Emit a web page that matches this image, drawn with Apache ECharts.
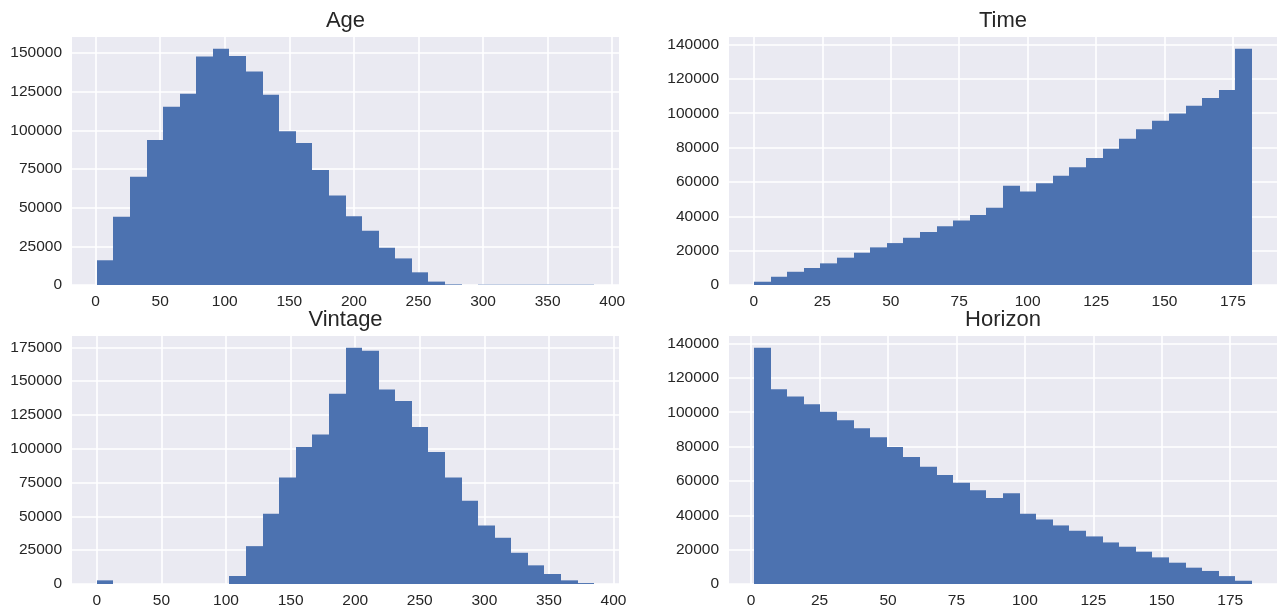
<!DOCTYPE html>
<html>
<head>
<meta charset="utf-8">
<script src="https://cdn.jsdelivr.net/npm/echarts@6/dist/echarts.min.js"></script>
<style>
  html, body { margin: 0; padding: 0; background: #ffffff; }
  #chart { width: 1279px; height: 612px; }
</style>
</head>
<body>
<div id="chart"></div>
<script>
// ---- data (30-bin histograms) ----
const panelTitles = ['Age', 'Time', 'Vintage', 'Horizon'];

const ageRange = [1, 386];
const ageCounts = [16000, 44100, 70100, 93800, 115300, 123700, 147800, 152800, 148200, 138100,
  123100, 99400, 91900, 74400, 57900, 44500, 35100, 24100, 17200, 8200,
  2200, 400, 0, 200, 200, 200, 200, 200, 200, 200];

const timeRange = [0, 182];
const timeCounts = [1900, 4800, 7700, 9900, 12600, 15900, 18800, 21900, 24400, 27500,
  30900, 34200, 37500, 40800, 44900, 57800, 54500, 59200, 63600, 68500,
  73900, 79300, 85100, 90700, 95600, 99800, 104400, 108900, 113500, 137500];

const vintageRange = [0, 385];
const vintageCounts = [2700, 0, 0, 0, 0, 0, 0, 0, 5900, 28000,
  51900, 78700, 101400, 110500, 140700, 174700, 172500, 143900, 135300, 116100,
  97700, 78700, 61500, 43300, 34200, 23100, 13800, 7400, 2700, 700];

const horizonRange = [1, 183];
const horizonCounts = [137500, 113400, 109200, 104700, 100300, 95400, 90600, 85400, 79800, 74000,
  68300, 63500, 58900, 54600, 50000, 52900, 40900, 37600, 34100, 31000,
  27700, 24200, 21700, 18800, 15500, 12400, 9500, 7600, 4600, 1900];

const xTickSteps = [50, 25, 50, 25];
const yTickSteps = [25000, 20000, 25000, 20000];

// ---- build ----
const ranges = [ageRange, timeRange, vintageRange, horizonRange];
const counts = [ageCounts, timeCounts, vintageCounts, horizonCounts];

const grids = [
  { left: 72,  top: 37,  width: 547, height: 248 },
  { left: 729, top: 37,  width: 548, height: 248 },
  { left: 72,  top: 336, width: 547, height: 248 },
  { left: 729, top: 336, width: 548, height: 248 }
];
const titleTops = [10, 10, 308.5, 308.5];

const BAR = '#4c72b0';
const TXT = '#262626';
const FONT = '"Liberation Sans", Arial, Helvetica, sans-serif';

function binData(range, cnt) {
  const n = cnt.length, w = (range[1] - range[0]) / n;
  return cnt.map((c, i) => [range[0] + i * w, range[0] + (i + 1) * w, c]);
}

function renderItem(params, api) {
  const x0 = api.value(0), x1 = api.value(1), v = api.value(2);
  if (!v) return null;
  const pTop = api.coord([x0, v]);
  const pBot = api.coord([x1, 0]);
  const xa = Math.round(pTop[0]), xb = Math.round(pBot[0]);
  return {
    type: 'rect',
    shape: { x: xa, y: pTop[1], width: xb - xa, height: pBot[1] - pTop[1] },
    style: { fill: BAR }
  };
}

const xAxes = [], yAxes = [], series = [], titles = [];
for (let i = 0; i < 4; i++) {
  const r = ranges[i], span = r[1] - r[0];
  xAxes.push({
    type: 'value', gridIndex: i,
    min: r[0] - 0.05 * span, max: r[1] + 0.05 * span,
    minInterval: xTickSteps[i], maxInterval: xTickSteps[i], splitNumber: 8,
    axisLine: { show: false }, axisTick: { show: false },
    axisLabel: { color: TXT, fontSize: 15.5, fontFamily: FONT, margin: 9,
      showMinLabel: false, showMaxLabel: false, formatter: v => String(v) },
    splitLine: { show: true, showMinLine: false, showMaxLine: false,
      lineStyle: { color: '#ffffff', width: 1.6 } }
  });
  const maxC = Math.max.apply(null, counts[i]);
  yAxes.push({
    type: 'value', gridIndex: i,
    min: 0, max: maxC * 1.05, interval: yTickSteps[i],
    axisLine: { show: false }, axisTick: { show: false },
    axisLabel: { color: TXT, fontSize: 15.5, fontFamily: FONT, margin: 10,
      showMinLabel: true, showMaxLabel: false, formatter: v => String(v) },
    splitLine: { show: true, showMaxLine: false,
      lineStyle: { color: '#ffffff', width: 1.6 } }
  });
  series.push({
    type: 'custom', xAxisIndex: i, yAxisIndex: i,
    renderItem: renderItem, clip: true, silent: true,
    encode: { x: [0, 1], y: 2 },
    data: binData(r, counts[i])
  });
  titles.push({
    text: panelTitles[i],
    left: grids[i].left + grids[i].width / 2, top: titleTops[i],
    textAlign: 'center', padding: 0,
    textStyle: { color: TXT, fontSize: 22, fontWeight: 'normal', fontFamily: FONT }
  });
}

const chart = echarts.init(document.getElementById('chart'), null, { renderer: 'canvas' });
chart.setOption({
  animation: false,
  backgroundColor: '#ffffff',
  title: titles,
  grid: grids.map(g => Object.assign({ show: true, backgroundColor: '#eaeaf2', borderWidth: 0 }, g)),
  xAxis: xAxes,
  yAxis: yAxes,
  series: series
});
</script>
</body>
</html>
